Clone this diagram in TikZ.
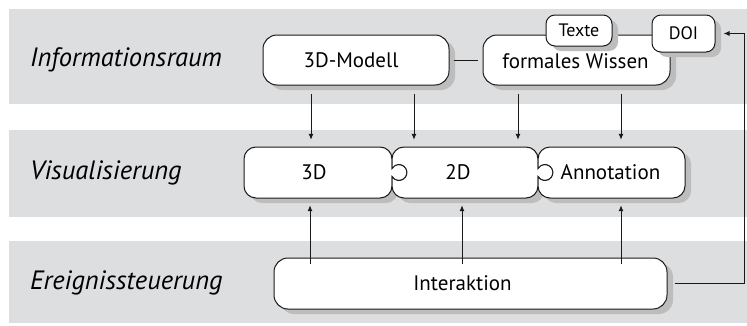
\documentclass[tikz,border=0pt]{standalone}
\usepackage{fontspec}
\setmainfont{PT Sans}
\usetikzlibrary{arrows.meta,shadows,calc}
\definecolor{band}{HTML}{DDDEE0}
\definecolor{shad}{HTML}{BDBDBD}
\definecolor{ink}{HTML}{1A1A1A}
\begin{document}
\begin{tikzpicture}[x=1pt,y=1pt,
  font=\fontsize{21}{25}\selectfont,
  shadowed/.style={drop shadow={shadow xshift=6pt, shadow yshift=-5pt, fill=shad, opacity=1}},
  box/.style={draw=ink, line width=1pt, fill=white, inner sep=0pt, shadowed},
  bigbox/.style={box, rounded corners=14pt},
  smallbox/.style={box, rounded corners=9pt, font=\fontsize{18}{22}\selectfont},
  vshadow/.style={fill=shad},
  vbox/.style={draw=ink, line width=1pt, fill=white},
  vnode/.style={inner sep=0pt, minimum height=51pt},
  arr/.style={draw=ink, line width=1pt, -{Latex[length=6pt,width=5pt]}},
  plain/.style={draw=ink, line width=1pt},
  bandlabel/.style={anchor=west, inner sep=0pt, font=\fontsize{26.5}{30}\selectfont\itshape}]
\useasboundingbox (0,0) rectangle (747,325);
% bands
\fill[band] (9,221) rectangle (747,316);
\fill[band] (9,108) rectangle (747,195);
\fill[band] (9,2) rectangle (747,84);
% band labels
\node[bandlabel] (l1) at (30,265) {Informationsraum};
\node[bandlabel] (l2) at (30,152.5) {Visualisierung};
\node[bandlabel] (l3) at (30,42) {Ereignissteuerung};
% top row
\node[bigbox, minimum width=186pt, minimum height=50pt,
  label={[xshift=-5pt]center:3D-Modell}] (modell) at (356,265) {};
\node[bigbox, minimum width=187pt, minimum height=50pt,
  label={[xshift=-1pt,yshift=-1pt]center:formales Wissen}] (wissen) at (576.5,265) {};
\node[smallbox, minimum width=66pt, minimum height=31pt] (texte) at (579,294.5) {Texte};
\node[smallbox, minimum width=63pt, minimum height=37pt] (doi) at (683.5,291.5) {DOI};
% visualisation row (puzzle pieces)
\foreach \sx/\sy/\sty in {6/-5/vshadow, 0/0/vbox} {
  \path[\sty, shift={(\sx,\sy)}]
    (256,178) -- (380,178) arc[start angle=90,end angle=0,radius=12]
    -- (392,156.5) arc[start angle=150,end angle=-150,radius=8]
    -- (392,139) arc[start angle=0,end angle=-90,radius=12]
    -- (256,127) arc[start angle=270,end angle=180,radius=12]
    -- (244,166) arc[start angle=180,end angle=90,radius=12] -- cycle;
  \path[\sty, shift={(\sx,\sy)}]
    (404,178) -- (526,178) arc[start angle=90,end angle=0,radius=12]
    -- (538,156.5) arc[start angle=150,end angle=-150,radius=8]
    -- (538,139) arc[start angle=0,end angle=-90,radius=12]
    -- (404,127) arc[start angle=270,end angle=180,radius=12]
    -- (392,148.5) arc[start angle=-150,end angle=150,radius=8]
    -- (392,166) arc[start angle=180,end angle=90,radius=12] -- cycle;
  \path[\sty, shift={(\sx,\sy)}]
    (550,178) -- (673,178) arc[start angle=90,end angle=0,radius=12]
    -- (685,139) arc[start angle=0,end angle=-90,radius=12]
    -- (550,127) arc[start angle=270,end angle=180,radius=12]
    -- (538,148.5) arc[start angle=-150,end angle=150,radius=8]
    -- (538,166) arc[start angle=180,end angle=90,radius=12] -- cycle;
}
\node[vnode, minimum width=148pt, label={[xshift=-4pt]center:3D}] (v3d) at (318,152.5) {};
\node[vnode, minimum width=146pt, label={[xshift=-7pt]center:2D}] (v2d) at (465,152.5) {};
\node[vnode, minimum width=147pt, label={[xshift=-1pt]center:Annotation}] (vann) at (611.5,152.5) {};
% bottom row
\node[bigbox, minimum width=393pt, minimum height=51pt,
  label={[xshift=-8pt]center:Interaktion}] (inter) at (470.5,41.5) {};
% connectors
\draw[plain, shorten <=4pt, shorten >=5pt] (modell.east) -- (wissen.west);
\draw[arr, shorten <=8pt, shorten >=7pt] ([xshift=-45pt]modell.south) -- ([xshift=-45pt]modell.south |- v3d.north);
\draw[arr, shorten <=8pt, shorten >=7pt] ([xshift=58pt]modell.south) -- ([xshift=58pt]modell.south |- v2d.north);
\draw[arr, shorten <=8pt, shorten >=7pt] ([xshift=-58.5pt]wissen.south) -- ([xshift=-58.5pt]wissen.south |- v2d.north);
\draw[arr, shorten <=8pt, shorten >=7pt] ([xshift=44.5pt]wissen.south) -- ([xshift=44.5pt]wissen.south |- vann.north);
\draw[arr, shorten <=-6pt, shorten >=7pt] ([xshift=-160.5pt]inter.north) -- ([xshift=-160.5pt]inter.north |- v3d.south);
\draw[arr, shorten <=-6pt, shorten >=7pt] ([xshift=-8.5pt]inter.north) -- ([xshift=-8.5pt]inter.north |- v2d.south);
\draw[arr, shorten <=-6pt, shorten >=7pt] ([xshift=150.5pt]inter.north) -- ([xshift=150.5pt]inter.north |- vann.south);
\coordinate (fb) at (744,0);
\draw[arr, shorten >=8pt] ([xshift=7pt]inter.east) -- (inter.east -| fb) -- (doi.east -| fb) -- (doi.east);
\end{tikzpicture}
\end{document}
